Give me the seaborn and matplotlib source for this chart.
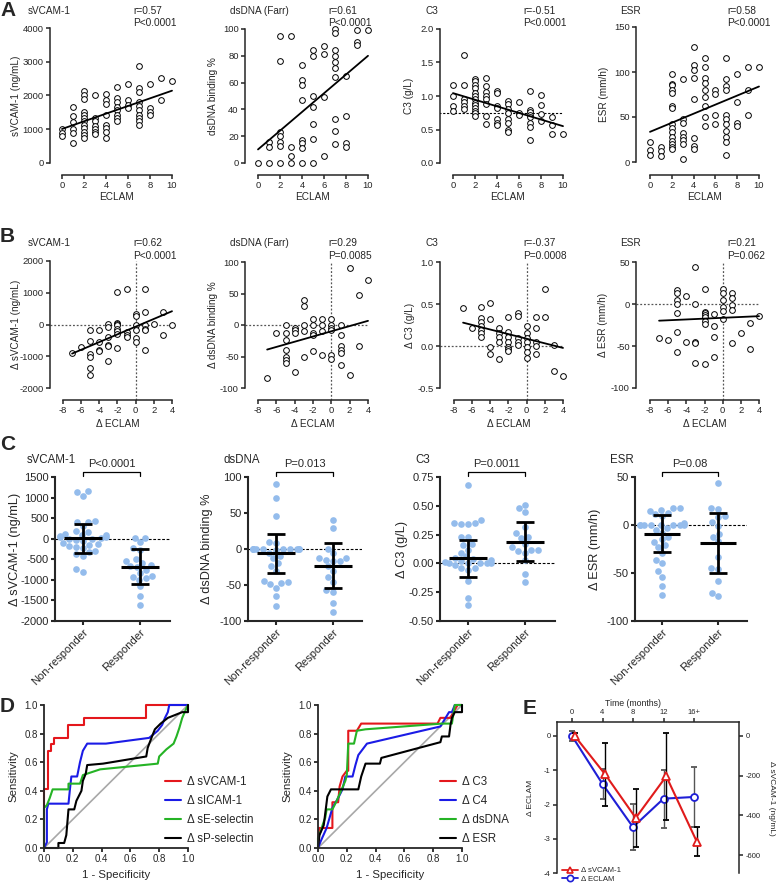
import warnings
import numpy as np
import pandas as pd
import seaborn as sns
import matplotlib
matplotlib.use("Agg")
import matplotlib.pyplot as plt
from matplotlib.lines import Line2D

warnings.filterwarnings("ignore")

# ---------------- A: baseline values grouped by ECLAM score 0..10
ECLAM = list(range(11))
A_SVCAM = [
    [1000, 900, 800],
    [1670, 1400, 1200, 1000, 900, 600],
    [2120, 2020, 1890, 1520, 1430, 1330, 1230, 1130, 1030, 930, 830, 750],
    [2020, 1330, 1230, 1100, 1000, 930, 850],
    [2050, 1870, 1750, 1430, 1130, 1030, 930, 730],
    [2250, 1920, 1820, 1670, 1570, 1430, 1330, 1230],
    [2350, 1870, 1720, 1620],
    [2880, 2220, 2090, 1820, 1690, 1570, 1430, 1330, 1230, 1130],
    [2350, 1620, 1520, 1430],
    [2510, 1870],
    [2420],
]
A_DSDNA = [
    [0],
    [16, 12, 0],
    [95, 76, 23, 20, 16, 13, 0],
    [95, 12, 5, 0],
    [73, 62, 58, 47, 17, 15, 11, 0],
    [84, 80, 50, 42, 29, 18, 0],
    [87, 81, 49, 5],
    [100, 97, 84, 80, 75, 71, 64, 33, 24, 14],
    [65, 35, 15, 12],
    [99, 90, 88],
    [99],
]
A_C3 = [
    [1.16, 1.0, 0.85, 0.78],
    [1.61, 1.16, 0.95, 0.91, 0.85, 0.80],
    [1.26, 1.22, 1.17, 1.12, 1.05, 1.0, 0.95, 0.90, 0.86, 0.82, 0.78, 0.74, 0.70],
    [1.27, 1.15, 1.06, 1.0, 0.95, 0.88, 0.70, 0.58],
    [1.08, 1.05, 0.85, 0.82, 0.65, 0.60, 0.57],
    [0.92, 0.88, 0.80, 0.74, 0.66, 0.60, 0.50, 0.46],
    [0.91, 0.75, 0.71],
    [1.08, 0.79, 0.76, 0.72, 0.68, 0.60, 0.53, 0.35],
    [1.02, 0.87, 0.73, 0.62],
    [0.68, 0.56, 0.43],
    [0.43],
]
A_ESR = [
    [22, 13, 8],
    [17, 12, 7],
    [98, 87, 85, 80, 77, 62, 60, 42, 38, 33, 28, 23, 20, 17, 14],
    [92, 48, 43, 32, 28, 25, 20, 3],
    [128, 108, 102, 93, 70, 27, 18, 14],
    [115, 105, 93, 88, 80, 72, 62, 50, 40],
    [80, 75, 52, 42],
    [115, 92, 84, 80, 52, 48, 42, 35, 28, 22, 8],
    [98, 67, 43, 40],
    [105, 80, 52],
    [105],
]
C3_CUTOFF = 0.75
A_STATS = [("r=0.57", "P<0.0001"), ("r=0.61", "P<0.0001"),
           ("r=-0.51", "P<0.0001"), ("r=0.58", "P<0.0001")]

# ---------------- B: change vs change in ECLAM (-7..4)
D_ECLAM = list(range(-7, 5))
B_SVCAM = [
    [-900], [-700],
    [-180, -520, -940, -1010, -1380, -1590],
    [-180, -540, -800, -850],
    [30, -70, -390, -650, -680, -1140],
    [1020, 50, 30, -20, -130, -210, -310, -730],
    [1110, -230, -330, -390],
    [340, 260, 0, -180, -440, -540],
    [1110, 400, 0, -130, -180, -800],
    [30], [400, -330], [0],
]
B_DSDNA = [
    [-84], [-12],
    [0, -12, -24, -39, -51, -56, -60],
    [-5, -8, -12, -75],
    [40, 30, 0, -10, -50],
    [10, 0, -12, -16, -42],
    [10, 0, -10, -47],
    [10, 0, -5, -8, -47, -54],
    [0, -16, -34, -39, -45, -63],
    [90, -79], [47, -34], [71],
]
B_C3 = [
    [0.45], [0.21],
    [0.47, 0.33, 0.28, 0.24, 0.19, 0.15, 0.11],
    [0.51, 0.32, -0.01, -0.09],
    [0.22, 0.16, 0.11, 0.05, -0.15],
    [0.34, 0.17, 0.11, 0.05, -0.01, -0.04, -0.06],
    [0.39, 0.36, 0.10, 0.05, 0.01],
    [0.24, 0.16, 0.09, 0.05, -0.01, -0.07, -0.14],
    [0.34, 0.22, 0.05, 0.0, -0.10],
    [0.68, 0.35], [0.01, -0.30], [-0.36],
]
B_ESR = [
    [-41], [-43],
    [17, 13, 5, 0, -11, -33, -57],
    [9, -45],
    [44, 0, -45, -47, -70],
    [18, -9, -11, -13, -16, -20, -24, -72],
    [-12, -26, -39, -63],
    [18, 13, 5, -3, -8, -18],
    [13, 7, -1, -7, -47],
    [-34], [-23, -53], [-14],
]
B_STATS = [("r=0.62", "P<0.0001"), ("r=0.29", "P=0.0085"),
           ("r=-0.37", "P=0.0008"), ("r=0.21", "P=0.062")]

# ---------------- C: non-responders vs responders
GROUPS = ["Non-responder", "Responder"]
C_SVCAM_NR = [1150, 1130, 1040, 420, 410, 400, 300, 160, 180, 120, 100, 80, 60, 40, 30, 10,
              0, -10, -30, -60, -100, -140, -160, -180, -200, -230, -290, -330, -380, -430,
              -740, -800]
C_SVCAM_R = [15, 15, -90, -230, -270, -500, -550, -580, -630, -670, -690, -750, -840, -900,
             -930, -960, -1000, -1160, -1400, -1610]
C_DSDNA_NR = [90, 71, 46, 10, 8, 0, 0, 0, 0, 0, 0, 0, 0, 0, 0, -2, -5, -10, -12, -19, -23,
              -30, -45, -46, -47, -49, -54, -65, -79]
C_DSDNA_R = [40, 29, 0, -6, -12, -12, -15, -16, -16, -24, -31, -39, -46, -57, -60, -75, -87]
C_C3_NR = [0.68, 0.38, 0.35, 0.34, 0.34, 0.35, 0.23, 0.23, 0.17, 0.16, 0.12, 0.09, 0.06,
           0.05, 0.03, 0.01, 0.0, 0.0, 0.0, 0.0, 0.0, 0.02, 0.04, -0.01, -0.04, -0.06, -0.04,
           -0.15, -0.30, -0.36]
C_C3_R = [0.51, 0.48, 0.45, 0.32, 0.26, 0.23, 0.22, 0.17, 0.14, 0.12, 0.12, 0.11, 0.09,
          0.03, -0.09, -0.16]
C_ESR_NR = [18, 18, 16, 15, 13, 11, 9, 2, 0, 0, 0, 0, 0, 0, 0, 0, -3, -5, -8, -12, -15, -18,
            -21, -23, -29, -36, -40, -48, -54, -64, -73]
C_ESR_R = [44, 18, 17, 9, 8, 3, -1, -9, -12, -17, -33, -45, -46, -58, -71, -74]
# mean and SD bars
C_MEAN = [(10, -680), (-6, -23), (0.045, 0.19), (-9, -19)]
C_SD = [(350, 430), (27, 31), (0.16, 0.17), (19, 31)]
C_P = ["P<0.0001", "P=0.013", "P=0.0011", "P=0.08"]

# ---------------- D: ROC curves
ROC1 = {
    "Δ sVCAM-1": ([0, 0, 0.03, 0.03, 0.05, 0.05, 0.07, 0.07, 0.17, 0.17, 0.28, 0.28, 0.71, 0.71, 1.0],
                  [0, 0.41, 0.41, 0.68, 0.68, 0.73, 0.73, 0.77, 0.77, 0.86, 0.86, 0.91, 0.91, 1.0, 1.0]),
    "Δ sICAM-1": ([0, 0.02, 0.02, 0.03, 0.17, 0.18, 0.19, 0.23, 0.24, 0.25, 0.27, 0.30, 0.43, 0.73,
                   0.79, 0.82, 0.84, 0.86, 0.87, 1.0],
                  [0, 0.04, 0.27, 0.31, 0.31, 0.41, 0.50, 0.50, 0.55, 0.60, 0.68, 0.73, 0.73, 0.77,
                   0.82, 0.86, 0.91, 0.95, 1.0, 1.0]),
    "Δ sE-selectin": ([0, 0, 0.02, 0.04, 0.06, 0.17, 0.17, 0.25, 0.27, 0.33, 0.39, 0.79, 0.80,
                       0.85, 0.90, 0.92, 0.94, 0.96, 0.99, 1.0],
                      [0, 0.28, 0.30, 0.35, 0.41, 0.41, 0.45, 0.45, 0.51, 0.53, 0.55, 0.59, 0.64,
                       0.69, 0.73, 0.78, 0.84, 0.91, 0.98, 1.0]),
    "Δ sP-selectin": ([0, 0.10, 0.10, 0.14, 0.155, 0.17, 0.21, 0.225, 0.26, 0.27, 0.29, 0.30, 0.41,
                       0.71, 0.72, 0.75, 0.77, 0.81, 0.86, 0.96, 1.0, 1.0],
                      [0, 0, 0.035, 0.035, 0.09, 0.27, 0.27, 0.33, 0.40, 0.47, 0.52, 0.58, 0.59,
                       0.64, 0.70, 0.78, 0.83, 0.87, 0.91, 0.95, 0.95, 1.0]),
}
ROC2 = {
    "Δ C3": ([0, 0.007, 0.1, 0.1, 0.14, 0.15, 0.17, 0.2, 0.21, 0.21, 0.27, 0.3, 0.83, 0.85, 0.92,
              0.94, 0.97, 1.0],
             [0, 0.14, 0.14, 0.32, 0.32, 0.43, 0.5, 0.54, 0.54, 0.82, 0.82, 0.87, 0.87, 0.91, 0.91,
              0.95, 1.0, 1.0]),
    "Δ C4": ([0, 0.02, 0.06, 0.1, 0.14, 0.17, 0.19, 0.24, 0.26, 0.28, 0.34, 0.85, 0.91, 0.93,
              0.95, 1.0],
             [0, 0.05, 0.14, 0.28, 0.35, 0.41, 0.5, 0.5, 0.58, 0.65, 0.73, 0.85, 0.95, 0.95, 1.0, 1.0]),
    "Δ dsDNA": ([0, 0, 0.02, 0.035, 0.05, 0.06, 0.1, 0.13, 0.16, 0.19, 0.2, 0.21, 0.25, 0.27, 0.33,
                 0.86, 0.93, 0.95, 1.0],
                [0, 0.07, 0.12, 0.17, 0.21, 0.27, 0.27, 0.33, 0.4, 0.47, 0.51, 0.73, 0.73, 0.82,
                 0.83, 0.87, 0.87, 1.0, 1.0]),
    "Δ ESR": ([0, 0.01, 0.04, 0.065, 0.09, 0.28, 0.3, 0.33, 0.43, 0.44, 0.85, 0.86, 0.91, 0.92,
               0.93, 0.95, 1.0, 1.0],
              [0, 0.09, 0.16, 0.36, 0.41, 0.41, 0.5, 0.59, 0.59, 0.63, 0.74, 0.78, 0.78, 0.86,
               0.91, 0.95, 0.95, 1.0]),
}
ROC_COLORS = ["#e4171c", "#1b1be6", "#25b325", "black"]

# ---------------- E: time course
E_TIME = ["0", "4", "8", "12", "16+"]
E_ECLAM = [0, -1.40, -2.66, -1.83, -1.78]
E_ECLAM_SD = [0.14, 0.43, 0.68, 0.85, 0.87]
E_SVCAM = [0, -194, -413, -203, -532]
E_SVCAM_SD = [15, 160, 145, 220, 72]

# ======================================================================
sns.set_style("ticks")
plt.rcParams["font.family"] = ["Liberation Sans", "DejaVu Sans"]
plt.rcParams["axes.unicode_minus"] = False

W, H = 777, 884
fig = plt.figure(figsize=(W / 100, H / 100), dpi=100)


def px_box(left, right, top, bottom):
    return fig.add_axes([left / W, 1 - bottom / H, (right - left) / W, (bottom - top) / H])


def fit(ax, xref, yref):
    # map two known pixel positions to data values on each axis
    pos = ax.get_position()
    left, right = pos.x0 * W, pos.x1 * W
    top, bottom = (1 - pos.y1) * H, (1 - pos.y0) * H
    (pa, va), (pb, vb) = xref
    k = (vb - va) / (pb - pa)
    ax.set_xlim(va + (left - pa) * k, va + (right - pa) * k)
    (pa, va), (pb, vb) = yref
    k = (vb - va) / (pb - pa)
    ax.set_ylim(va + (bottom - pa) * k, va + (top - pa) * k)


def frac(ax, x, y):
    pos = ax.get_position()
    return (x / W - pos.x0) / pos.width, (1 - y / H - pos.y0) / pos.height


def ftext(x, y, s, **kw):
    kw.setdefault("va", "center")
    fig.text(x / W, 1 - y / H, s, **kw)


def style(ax, fs, lw=1.1):
    sns.despine(ax=ax)
    for s in ("left", "bottom"):
        ax.spines[s].set_linewidth(lw)
    ax.tick_params(direction="out", length=3, width=lw, labelsize=fs, pad=1.5)


def labels(ax, ylab, yx, yy, xlab, xx, xy, fs):
    ax.set_ylabel(ylab, fontsize=fs, va="center", ha="center")
    ax.yaxis.set_label_coords(*frac(ax, yx, yy))
    ax.set_xlabel(xlab, fontsize=fs, va="center", ha="center")
    ax.xaxis.set_label_coords(*frac(ax, xx, xy))


def long(xs, groups):
    x = np.concatenate([[v] * len(g) for v, g in zip(xs, groups)])
    y = np.concatenate(groups)
    return pd.DataFrame({"x": x, "y": y})


def corr(ax, xs, groups):
    df = long(xs, groups)
    sns.scatterplot(data=df, x="x", y="y", ax=ax, s=17, facecolor="white", edgecolor="black",
                    linewidth=0.7, clip_on=False, zorder=3)
    sns.regplot(data=df, x="x", y="y", ax=ax, scatter=False, ci=None, color="black",
                line_kws={"lw": 1.3, "zorder": 4})


# ---------------- row A
a_sets = [
    (A_SVCAM, "sVCAM-1 (ng/mL)", [0, 1000, 2000, 3000, 4000], "{:.0f}", "sVCAM-1"),
    (A_DSDNA, "dsDNA binding %", [0, 20, 40, 60, 80, 100], "{:.0f}", "dsDNA (Farr)"),
    (A_C3, "C3 (g/L)", [0, 0.5, 1.0, 1.5, 2.0], "{:.1f}", "C3"),
    (A_ESR, "ESR (mm/h)", [0, 50, 100, 150], "{:.0f}", "ESR"),
]
a_boxes = [(50, 178, 28, (62, 172), 163), (245, 373, 29, (258, 368), 163),
           (440, 568, 29, (453, 563), 163), (636, 764, 27, (650, 759), 162)]
a_title_x = [28, 230, 426, 620]
a_ylab_x = [16, 213, 409, 604]
a_stat_x = [133, 328, 523, 727]

for i, (groups, ylab, yt, fmt, title) in enumerate(a_sets):
    left, right, top, (x0, x10), zero = a_boxes[i]
    ax = px_box(left, right, top, 175)
    corr(ax, ECLAM, groups)
    if groups is A_C3:
        ax.hlines(C3_CUTOFF, -2, ECLAM[-1], colors="black", linestyles=(0, (2, 1.5)), lw=0.8)
    fit(ax, ((x0, 0), (x10, 10)), ((zero, 0), (top, yt[-1])))
    style(ax, 6.8)
    ax.set_yticks(yt, [fmt.format(v) for v in yt])
    ax.set_xticks(range(0, 11, 2))
    ax.spines["left"].set_bounds(0, yt[-1])
    ax.spines["bottom"].set_bounds(0, 10)
    labels(ax, ylab, a_ylab_x[i], (top + zero) / 2, "ECLAM", (x0 + x10) / 2, 197, 7.2)
    ftext(a_title_x[i], 11, title, fontsize=7.2)
    ftext(a_stat_x[i], 11, A_STATS[i][0], fontsize=7.3)
    ftext(a_stat_x[i], 23, A_STATS[i][1], fontsize=7.3)

# ---------------- row B
b_sets = [
    (B_SVCAM, "Δ sVCAM-1 (ng/mL)", [-2000, -1000, 0, 1000, 2000], "{:.0f}"),
    (B_DSDNA, "Δ dsDNA binding %", [-100, -50, 0, 50, 100], "{:.0f}"),
    (B_C3, "Δ C3 (g/L)", [-0.5, 0.0, 0.5, 1.0], "{:.1f}"),
    (B_ESR, "Δ ESR (mm/h)", [-100, -50, 0, 50], "{:.0f}"),
]
b_boxes = [(50, 177, 261, (63, 172)), (245, 373, 262, (258, 368)),
           (440, 568, 262, (454, 563)), (636, 764, 262, (650, 759))]
b_ylab_x = [16, 213, 410, 603]

for i, (groups, ylab, yt, fmt) in enumerate(b_sets):
    left, right, top, (xm8, x4) = b_boxes[i]
    ax = px_box(left, right, top, 400)
    corr(ax, D_ECLAM, groups)
    fit(ax, ((xm8, -8), (x4, 4)), ((388, yt[0]), (top, yt[-1])))
    xl, yl = ax.get_xlim(), ax.get_ylim()
    dot = dict(colors="#555555", linestyles=(0, (1.5, 1.5)), lw=0.9, zorder=1)
    ax.hlines(0, xl[0], 4, **dot)
    ax.vlines(0, yl[0], yt[-1], **dot)
    style(ax, 6.8)
    ax.set_yticks(yt, [fmt.format(v) for v in yt])
    ax.set_xticks(range(-8, 5, 2))
    ax.spines["left"].set_bounds(yt[0], yt[-1])
    ax.spines["bottom"].set_bounds(-8, 4)
    labels(ax, ylab, b_ylab_x[i], (top + 388) / 2, "Δ ECLAM", (xm8 + x4) / 2, 424, 7.2)
    ftext(a_title_x[i], 243, a_sets[i][4], fontsize=7.2)
    ftext(a_stat_x[i], 243, B_STATS[i][0], fontsize=7.3)
    ftext(a_stat_x[i], 256, B_STATS[i][1], fontsize=7.3)

# ---------------- row C
c_sets = [
    (C_SVCAM_NR, C_SVCAM_R, "Δ sVCAM-1 (ng/mL)", list(range(-2000, 1501, 500)), "{:.0f}", "sVCAM-1"),
    (C_DSDNA_NR, C_DSDNA_R, "Δ dsDNA binding %", [-100, -50, 0, 50, 100], "{:.0f}", "dsDNA"),
    (C_C3_NR, C_C3_R, "Δ C3 (g/L)", [-0.5, -0.25, 0, 0.25, 0.5, 0.75], "{:.2f}", "C3"),
    (C_ESR_NR, C_ESR_R, "Δ ESR (mm/h)", [-100, -50, 0, 50], "{:.0f}", "ESR"),
]
c_boxes = [(55, 170, (83, 140)), (248, 362, (276, 333)), (440, 555, (468, 525)), (635, 747, (662, 718))]
c_title_x = [27, 224, 415, 610]
c_ylab_x = [15, 207, 402, 595]
SWARM = "#94bcec"

for i, (nr, r, ylab, yt, fmt, title) in enumerate(c_sets):
    left, right, (c0, c1) = c_boxes[i]
    ax = px_box(left, right, 477, 621)
    df = pd.DataFrame({"group": [GROUPS[0]] * len(nr) + [GROUPS[1]] * len(r), "value": nr + r})
    sns.swarmplot(data=df, x="group", y="value", order=GROUPS, color=SWARM, size=4.8, ax=ax,
                  clip_on=False, zorder=2)
    pos = np.arange(len(GROUPS))
    ax.axhline(0, color="black", ls=(0, (2.5, 1.5)), lw=0.8, zorder=1)
    ax.hlines(C_MEAN[i], pos - 0.33, pos + 0.33, colors="black", lw=2.2, zorder=4)
    ax.errorbar(pos, C_MEAN[i], yerr=C_SD[i], fmt="none", ecolor="black", elinewidth=2,
                capsize=6.8, capthick=2, zorder=4)
    fit(ax, ((c0, 0), (c1, 1)), ((621, yt[0]), (477, yt[-1])))
    style(ax, 8, lw=1.5)
    ax.set_yticks(yt, [fmt.format(v) for v in yt])
    ax.set_xticks(pos, GROUPS, rotation=45, ha="right", rotation_mode="anchor", fontsize=8)
    labels(ax, ylab, c_ylab_x[i], 549, "", 0, 0, 9.2)
    ftext(c_title_x[i], 460, title, fontsize=8.3)
    tr = ax.get_xaxis_transform()
    ax.plot([0, 0, 1, 1], [1.006, 1.035, 1.035, 1.006], color="black", lw=0.9,
            transform=tr, clip_on=False)
    ax.text(0.5, 1.09, C_P[i], transform=tr, ha="center", va="center", fontsize=8)

# ---------------- row D
for ax_left, roc, leg_x in [(44, ROC1, 165), (318, ROC2, 440)]:
    ax = px_box(ax_left, ax_left + 144, 705, 848)
    ax.axline((0, 0), (1, 1), color="#a8a8a8", lw=1.2, zorder=1)
    for (name, (fpr, tpr)), col in zip(roc.items(), ROC_COLORS):
        sns.lineplot(x=fpr, y=tpr, sort=False, estimator=None, color=col, lw=1.5, ax=ax,
                     label=name, clip_on=False)
    fit(ax, ((ax_left, 0), (ax_left + 144, 1)), ((848, 0), (705, 1)))
    style(ax, 7, lw=1.3)
    ax.set_xticks(np.arange(0, 1.01, 0.2), [f"{v:.1f}" for v in np.arange(0, 1.01, 0.2)])
    ax.set_yticks(np.arange(0, 1.01, 0.2), [f"{v:.1f}" for v in np.arange(0, 1.01, 0.2)])
    labels(ax, "Sensitivity", ax_left - 31, 776, "1 - Specificity", ax_left + 72, 875, 8.2)
    ax.legend(loc="upper left", bbox_to_anchor=(leg_x / W, 1 - 776 / H), bbox_transform=fig.transFigure,
              frameon=False, fontsize=8.3, handlelength=1.4, handletextpad=0.5, labelspacing=0.6,
              borderpad=0, borderaxespad=0)

# ---------------- E
RED, BLUE = "#e01b1b", "#1f1fd6"
axE = px_box(557, 739, 722, 873)
xs = np.arange(len(E_TIME))
axE.errorbar(xs, E_ECLAM, yerr=E_ECLAM_SD, color=BLUE, marker="o", ms=5, mfc="white", mec=BLUE,
             mew=1.3, lw=1.5, ecolor="#555555", elinewidth=1, capsize=2.5, zorder=3)
axE2 = axE.twinx()
axE2.errorbar(xs + 0.09, E_SVCAM, yerr=E_SVCAM_SD, color=RED, marker="^", ms=5.5, mfc="white",
              mec=RED, mew=1.3, lw=1.5, ecolor="black", elinewidth=1, capsize=2.5, zorder=3)
fit(axE, ((572, 0), (694, 4)), ((873, -4), (736, 0)))
fit(axE2, ((572, 0), (694, 4)), ((736, 0), (855, -600)))
for a in (axE, axE2):
    for s in a.spines.values():
        s.set_linewidth(1.1)
    a.spines["bottom"].set_visible(False)
    a.tick_params(direction="out", length=3, width=1.1, labelsize=5.5, pad=1.5)
axE.spines["right"].set_visible(False)
axE2.spines["left"].set_visible(False)
axE2.spines["top"].set_visible(False)
axE.xaxis.tick_top()
axE.xaxis.set_label_position("top")
axE.set_xticks(xs, E_TIME)
axE.set_yticks([0, -1, -2, -3, -4])
axE2.set_yticks([0, -200, -400, -600])
axE.set_xlabel("Time (months)", fontsize=6.3, va="center")
axE.xaxis.set_label_coords(*frac(axE, 633, 703))
axE.set_ylabel("Δ ECLAM", fontsize=6, va="center", ha="center")
axE.yaxis.set_label_coords(*frac(axE, 531, 798))
axE2.set_ylabel("Δ sVCAM-1 (ng/mL)", fontsize=6, rotation=270, va="center", ha="center")
axE2.yaxis.set_label_coords(*frac(axE2, 772, 798))
handles = [Line2D([], [], color=RED, marker="^", ms=5, mfc="white", mec=RED, mew=1.2, lw=1.3),
           Line2D([], [], color=BLUE, marker="o", ms=4.5, mfc="white", mec=BLUE, mew=1.2, lw=1.3)]
axE.legend(handles, ["Δ sVCAM-1", "Δ ECLAM"], loc="upper left",
           bbox_to_anchor=(562 / W, 1 - 867 / H), bbox_transform=fig.transFigure, frameon=False,
           fontsize=5.6, handlelength=2, handletextpad=0.5, labelspacing=0.15, borderpad=0,
           borderaxespad=0)

# ---------------- panel letters
for letter, x, y in [("A", 0, 10), ("B", 0, 236), ("C", 0, 445), ("D", 0, 706), ("E", 523, 709)]:
    ftext(x, y, letter, fontsize=15, fontweight="bold")

fig.savefig("out.png", dpi=100)
